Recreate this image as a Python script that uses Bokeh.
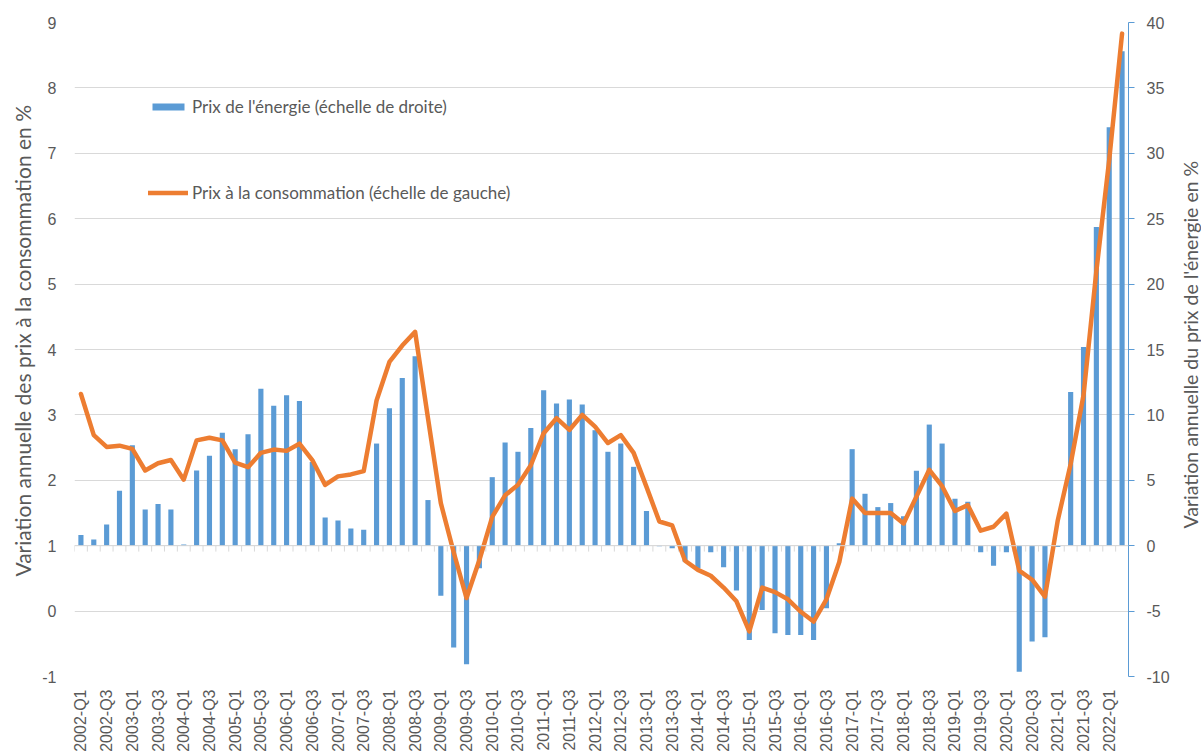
import math
from bokeh.plotting import figure
from bokeh.layouts import row
from bokeh.models import (Range1d, LinearAxis, FixedTicker, Span, Legend,
                          LegendItem, Label, ColumnDataSource)
from bokeh.embed import file_html
from bokeh.resources import INLINE

quarters = [f"{y}-Q{q}" for y in range(2002, 2023) for q in (1, 2, 3, 4)][:82]

energy = [0.81, 0.48, 1.63, 4.2, 7.68, 2.77, 3.18, 2.77, 0.1, 5.75,
          6.87, 8.63, 7.38, 8.52, 12.0, 10.69, 11.5, 11.07, 6.4, 2.16,
          1.93, 1.32, 1.22, 7.81, 10.5, 12.83, 14.49, 3.49, -3.82, -7.79,
          -9.06, -1.73, 5.24, 7.89, 7.18, 9.0, 11.88, 10.87, 11.17, 10.79,
          8.83, 7.18, 7.81, 6.03, 2.65, -0.05, -0.2, -1.2, -1.73, -0.5,
          -1.65, -3.43, -7.2, -4.91, -6.69, -6.82, -6.82, -7.2, -4.78, 0.18,
          7.38, 3.97, 2.95, 3.26, 2.26, 5.73, 9.26, 7.81, 3.59, 3.36,
          -0.5, -1.53, -0.5, -9.64, -7.33, -7.0, -0.1, 11.76, 15.2, 24.37,
          32.0, 37.8]

cpi = [3.32, 2.69, 2.51, 2.53, 2.48, 2.15, 2.26, 2.31, 2.01, 2.61,
       2.65, 2.61, 2.27, 2.20, 2.42, 2.47, 2.45, 2.56, 2.31, 1.93,
       2.06, 2.09, 2.14, 3.22, 3.81, 4.06, 4.27, 2.95, 1.65, 0.9,
       0.2, 0.78, 1.44, 1.77, 1.93, 2.23, 2.72, 2.95, 2.77, 3.0,
       2.82, 2.57, 2.69, 2.42, 1.90, 1.37, 1.31, 0.77, 0.63, 0.54,
       0.36, 0.15, -0.31, 0.36, 0.29, 0.18, -0.01, -0.16, 0.18, 0.75,
       1.72, 1.50, 1.50, 1.50, 1.34, 1.75, 2.16, 1.91, 1.53, 1.62,
       1.23, 1.29, 1.49, 0.62, 0.48, 0.22, 1.39, 2.25, 3.3, 5.2,
       6.9, 8.83]

left_ticks = list(range(-1, 10))
right_ticks = list(range(-10, 45, 5))

label_energy = "Prix de l'énergie (échelle de droite)"
label_cpi = "Prix à la consommation (échelle de gauche)"
title_left = "Variation annuelle des prix à la consommation en %"
title_right = "Variation annuelle du prix de l'énergie en %"

idx = list(range(len(quarters)))
src = ColumnDataSource(dict(x=idx, energy=energy, cpi=cpi))

GREY = "#595959"
GRID = "#D9D9D9"
BLUE = "#5B9BD5"
ORANGE = "#ED7D31"
TICKFONT = "Liberation Sans"
TEXTFONT = "Lato"
H = 755
TOP, BOTTOM = 22, 79
WL, WR = 39, 29
WP = 1133


def side_panel(width, text, x, y, size):
    # narrow companion figure holding a rotated axis title (reads bottom-to-top);
    # its frame spans the same page rows as the main frame, so data y == page y
    s = figure(width=width, height=H, output_backend="svg", toolbar_location=None,
               x_range=Range1d(0, width), y_range=Range1d(H - BOTTOM, TOP),
               x_axis_type=None, y_axis_type=None,
               min_border_left=0, min_border_right=0,
               min_border_top=TOP, min_border_bottom=BOTTOM)
    s.outline_line_color = None
    s.xgrid.visible = False
    s.ygrid.visible = False
    s.add_layout(Label(x=x, y=y, text=text, angle=math.pi / 2,
                       text_align="left", text_baseline="middle",
                       text_font=TEXTFONT, text_font_size=size,
                       text_color=GREY))
    return s


def hyphen_labels(ticks):
    return {t: str(t) for t in ticks if t < 0}


p = figure(width=WP, height=H, output_backend="svg", toolbar_location=None,
           x_range=Range1d(-0.5, len(quarters) - 0.5),
           y_range=Range1d(left_ticks[0], left_ticks[-1]),
           min_border_left=0, min_border_right=0,
           min_border_top=TOP, min_border_bottom=BOTTOM)
p.extra_y_ranges = {"energy": Range1d(right_ticks[0], right_ticks[-1])}
p.outline_line_color = None
p.xgrid.visible = False
p.ygrid.grid_line_color = GRID
p.ygrid.grid_line_width = 1

# left axis
ly = p.yaxis[0]
ly.ticker = FixedTicker(ticks=left_ticks)
ly.major_label_overrides = hyphen_labels(left_ticks)
ly.axis_line_color = None
ly.major_tick_line_color = None
ly.major_tick_out = 0
ly.minor_tick_line_color = None
ly.major_label_standoff = 18
ly.major_label_text_font = TICKFONT
ly.major_label_text_font_size = "16px"
ly.major_label_text_color = GREY

# right axis
ry = LinearAxis(y_range_name="energy", ticker=FixedTicker(ticks=right_ticks))
ry.major_label_overrides = hyphen_labels(right_ticks)
ry.axis_line_color = BLUE
ry.axis_line_width = 1
ry.major_tick_line_color = BLUE
ry.major_tick_out = 6
ry.major_tick_in = 0
ry.minor_tick_line_color = None
ry.major_label_standoff = 12
ry.major_label_text_font = TICKFONT
ry.major_label_text_font_size = "16px"
ry.major_label_text_color = GREY
p.add_layout(ry, "right")

# x axis
xa = p.xaxis[0]
xa.ticker = FixedTicker(ticks=idx[::2])
xa.major_label_overrides = {i: quarters[i] for i in idx[::2]}
xa.major_label_orientation = math.pi / 2
xa.axis_line_color = None
xa.major_tick_line_color = None
xa.major_tick_out = 0
xa.minor_tick_line_color = None
xa.major_label_standoff = 13
xa.major_label_text_font = TICKFONT
xa.major_label_text_font_size = "16px"
xa.major_label_text_color = GREY

# category boundary ticks under the zero line (right scale 0 == left scale 1)
bounds = [i - 0.5 for i in range(len(quarters) + 1)]
p.segment(x0=bounds, x1=bounds, y0=[0] * len(bounds), y1=[-0.45] * len(bounds),
          y_range_name="energy", line_color=GRID, line_width=1)

bars = p.vbar(x="x", top="energy", bottom=0, width=0.4, source=src,
              y_range_name="energy", fill_color=BLUE, line_color=None)
p.add_layout(Span(location=1, dimension="width", line_color=GRID, line_width=1))
line = p.line(x="x", y="cpi", source=src, line_color=ORANGE, line_width=4.5,
              line_join="round", line_cap="round")

legend = Legend(items=[LegendItem(label=label_energy, renderers=[bars]),
                       LegendItem(label=label_cpi, renderers=[line])],
                location=(74, 473), orientation="vertical",
                glyph_width=40, glyph_height=9, label_height=20,
                spacing=65, padding=0, margin=0, label_standoff=4,
                border_line_color=None, background_fill_alpha=0,
                label_text_font=TEXTFONT, label_text_font_size="17px",
                label_text_color=GREY)
p.add_layout(legend)

pl = side_panel(WL, title_left, 21.7, 576, "21px")
pr = side_panel(WR, title_right, 17.5, 528, "19.5px")

layout = row(pl, p, pr, spacing=0)
open("out.html", "w").write(file_html(layout, INLINE))
